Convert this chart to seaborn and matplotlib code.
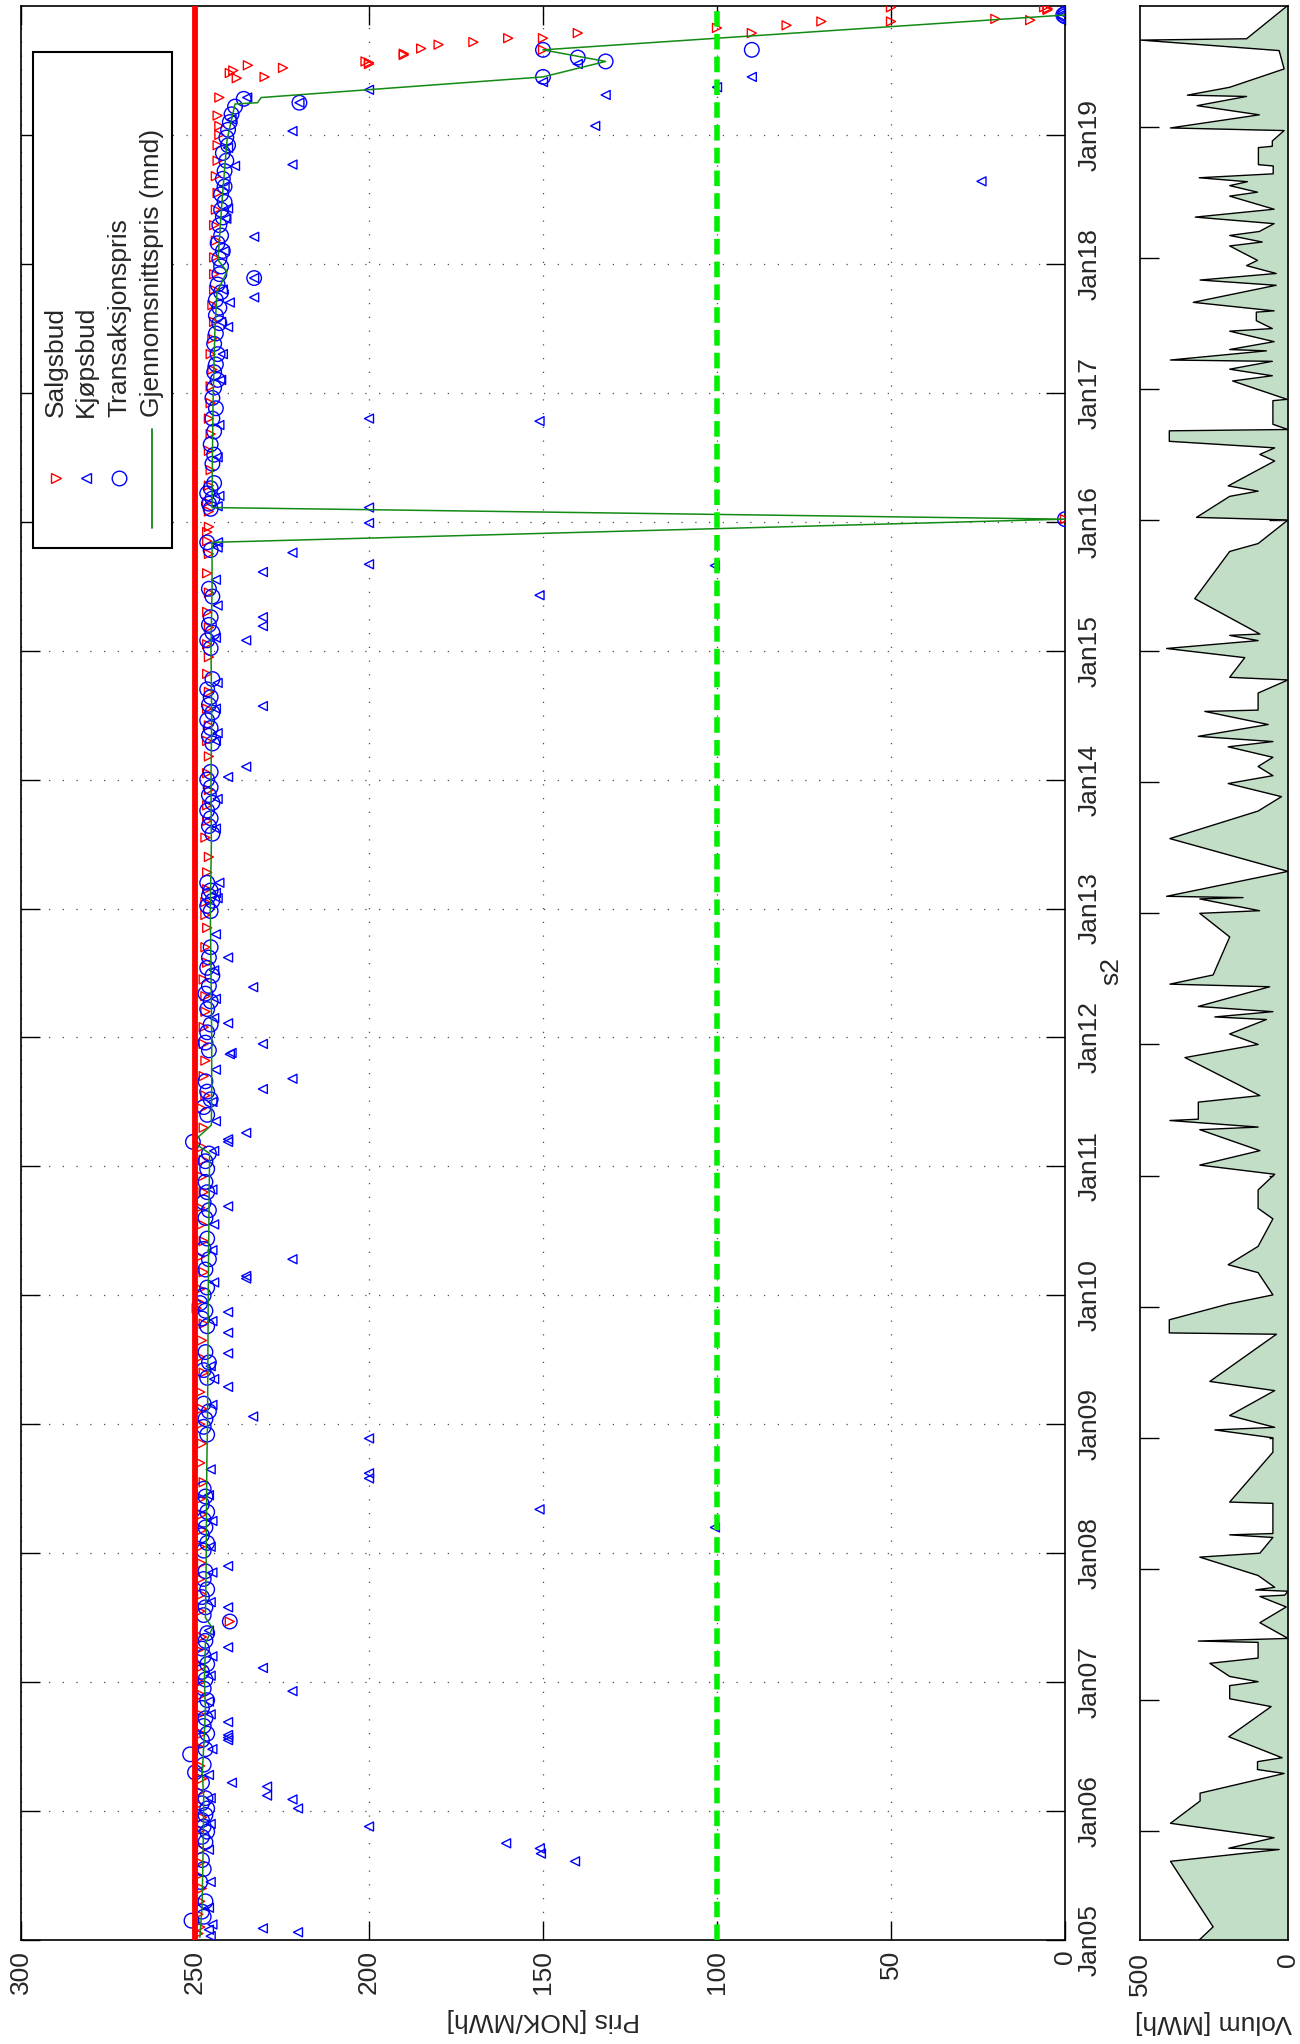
import numpy as np
import pandas as pd
import matplotlib
matplotlib.use("Agg")
import matplotlib.pyplot as plt
import seaborn as sns

sns.set_style("white")
plt.rcParams['font.family'] = ['Liberation Sans', 'DejaVu Sans']

# ---------------- data (decimal year, value) ----------------
sell_points = [
 (2005.05,249.0),(2005.10,248.5),(2005.20,249.0),(2005.30,248.5),(2005.40,248.0),(2005.50,249.0),(2005.60,248.5),(2005.70,248.0),(2005.85,248.5),(2005.95,248.0),
 (2006.05,249.0),(2006.15,248.5),(2006.25,248.0),(2006.35,248.5),(2006.50,249.0),(2006.60,248.0),(2006.75,248.5),(2006.90,248.0),
 (2007.00,248.5),(2007.12,248.0),(2007.25,249.0),(2007.35,248.0),(2007.47,240.0),(2007.55,248.5),(2007.68,248.0),(2007.80,248.5),(2007.92,248.0),
 (2008.05,248.5),(2008.18,248.0),(2008.30,248.0),(2008.42,248.5),(2008.55,247.5),(2008.70,248.5),(2008.85,248.0),
 (2009.00,248.5),(2009.12,248.0),(2009.25,248.5),(2009.40,247.5),(2009.52,248.5),(2009.65,248.0),(2009.78,247.5),(2009.90,249.5),(2009.95,249.0),
 (2010.05,248.5),(2010.18,247.5),(2010.30,248.5),(2010.42,247.5),(2010.55,248.0),(2010.68,248.5),(2010.80,247.5),(2010.92,248.0),
 (2011.05,247.5),(2011.15,248.0),(2011.30,247.5),(2011.45,248.0),(2011.55,247.0),(2011.70,247.5),(2011.82,247.0),(2011.95,247.5),
 (2012.08,247.5),(2012.20,247.0),(2012.32,247.0),(2012.45,247.5),(2012.58,246.5),(2012.70,247.0),(2012.85,246.5),(2012.95,247.0),
 (2013.05,247.0),(2013.15,246.5),(2013.28,246.5),(2013.40,246.0),(2013.55,247.0),(2013.68,246.5),(2013.80,246.5),(2013.92,246.0),
 (2014.05,246.5),(2014.18,246.0),(2014.30,246.5),(2014.42,246.0),(2014.55,246.5),(2014.68,246.0),(2014.82,246.5),(2014.95,246.0),
 (2015.05,246.5),(2015.18,246.0),(2015.30,246.5),(2015.45,246.0),(2015.60,246.5),(2015.75,246.0),(2015.85,246.5),(2015.92,246.5),(2015.96,246.0),
 (2016.02,0.0),(2016.08,246.0),(2016.15,246.5),(2016.28,246.0),(2016.40,245.5),(2016.55,246.0),(2016.68,245.5),(2016.80,246.0),(2016.92,245.5),
 (2017.05,245.5),(2017.18,245.0),(2017.30,245.5),(2017.42,245.0),(2017.55,244.5),(2017.68,245.0),(2017.80,244.5),(2017.92,244.5),
 (2018.05,244.5),(2018.18,244.0),(2018.30,244.5),(2018.42,244.0),(2018.55,243.5),(2018.68,244.0),(2018.80,243.5),(2018.92,243.5),
 (2019.00,243.0),(2019.07,243.0),(2019.15,243.5),(2019.29,243.0),(2019.44,238.0),(2019.45,230.0),(2019.48,240.0),(2019.50,239.0),
 (2019.52,224.7),(2019.54,234.8),(2019.55,200.0),(2019.56,200.0),(2019.57,201.0),(2019.62,190.0),(2019.63,190.0),(2019.67,185.0),
 (2019.70,180.0),(2019.72,170.0),(2019.75,160.0),(2019.75,150.0),(2019.79,140.0),(2019.66,150.0),(2019.83,100.0),(2019.79,90.0),
 (2019.85,80.0),(2019.88,70.0),(2019.88,50.0),(2019.99,50.0),(2019.90,20.0),(2019.89,10.0),(2019.99,6.0),(2019.98,5.0),(2019.97,5.0),
]

buy_points = [
 (2005.03,245.5),(2005.06,220.4),(2005.08,246.0),(2005.09,230.5),(2005.12,245.0),(2005.25,246.0),(2005.45,245.5),(2005.61,140.8),
 (2005.67,150.6),(2005.70,246.0),(2005.71,150.9),(2005.75,160.6),(2005.88,200.0),(2005.90,245.5),
 (2006.02,220.4),(2006.09,222.0),(2006.10,245.5),(2006.12,229.3),(2006.19,229.3),(2006.22,239.4),(2006.28,246.0),(2006.48,245.0),
 (2006.55,240.5),(2006.57,240.5),(2006.59,240.5),(2006.69,240.5),(2006.75,245.5),(2006.85,246.0),(2006.93,222.0),
 (2007.05,245.5),(2007.11,230.5),(2007.20,245.0),(2007.27,240.5),(2007.40,246.0),(2007.58,240.5),(2007.62,245.5),(2007.85,245.0),(2007.90,240.5),
 (2008.05,245.5),(2008.20,100.6),(2008.25,245.0),(2008.34,151.0),(2008.45,246.0),(2008.58,200.0),(2008.62,200.0),(2008.65,245.5),(2008.89,200.0),
 (2009.06,233.3),(2009.15,245.0),(2009.29,240.5),(2009.35,244.5),(2009.45,245.5),(2009.55,240.5),(2009.71,240.5),(2009.80,245.0),(2009.87,240.5),
 (2010.10,244.5),(2010.13,235.3),(2010.15,235.3),(2010.28,222.0),(2010.35,245.0),(2010.55,244.5),(2010.69,240.5),(2010.82,245.0),
 (2011.12,244.5),(2011.19,240.5),(2011.21,240.5),(2011.26,235.3),(2011.35,244.0),(2011.50,245.0),(2011.60,230.5),(2011.68,222.0),
 (2011.75,244.0),(2011.87,240.0),(2011.88,239.5),(2011.95,230.5),
 (2012.11,240.5),(2012.15,244.5),(2012.30,244.0),(2012.39,233.3),(2012.52,244.5),(2012.62,240.5),(2012.80,244.0),
 (2013.08,243.5),(2013.12,244.0),(2013.20,243.0),(2013.62,244.0),(2013.85,243.5),
 (2014.02,240.5),(2014.10,235.3),(2014.30,244.0),(2014.36,243.5),(2014.55,244.0),(2014.57,230.5),(2014.75,243.5),
 (2015.08,235.3),(2015.10,244.0),(2015.19,230.5),(2015.26,230.5),(2015.35,243.5),(2015.43,151.0),(2015.55,244.0),(2015.61,230.5),
 (2015.66,100.6),(2015.67,200.0),(2015.76,222.0),(2015.80,243.5),(2015.84,243.4),(2015.99,200.0),
 (2016.11,200.0),(2016.12,243.5),(2016.20,243.0),(2016.50,243.5),(2016.75,243.0),(2016.78,151.0),(2016.80,200.0),
 (2017.10,242.5),(2017.30,242.0),(2017.51,240.5),(2017.55,242.5),(2017.70,240.0),(2017.74,233.0),(2017.80,242.0),(2017.89,233.0),
 (2018.10,241.5),(2018.21,233.0),(2018.35,241.0),(2018.43,240.5),(2018.60,241.5),(2018.64,24.0),(2018.76,238.5),(2018.77,222.0),(2018.90,240.5),
 (2019.03,222.0),(2019.07,135.0),(2019.12,239.5),(2019.25,220.0),(2019.29,235.0),(2019.31,132.0),(2019.35,200.0),(2019.37,100.0),
 (2019.41,150.0),(2019.45,90.0),(2019.55,140.0),(2019.92,1.0),(2019.94,0.5),
]

tx_points = [
 (2005.15,251.0),(2005.18,247.5),(2005.22,248.0),(2005.30,247.0),(2005.45,248.5),(2005.55,247.5),(2005.62,248.0),(2005.76,247.0),
 (2005.80,248.0),(2005.84,246.5),(2005.88,247.5),(2005.93,248.0),(2005.97,247.0),
 (2006.02,246.5),(2006.06,248.0),(2006.10,247.0),(2006.22,248.0),(2006.30,250.0),(2006.36,247.5),(2006.44,251.4),(2006.48,247.0),
 (2006.55,248.0),(2006.60,246.5),(2006.66,247.5),(2006.72,247.0),(2006.80,248.0),(2006.86,246.5),(2006.95,247.5),
 (2007.02,247.0),(2007.08,248.0),(2007.14,246.5),(2007.20,247.5),(2007.26,248.0),(2007.32,247.0),(2007.38,246.5),(2007.47,240.0),
 (2007.52,247.5),(2007.58,247.0),(2007.66,248.0),(2007.72,246.5),(2007.80,247.5),(2007.86,247.0),
 (2008.02,247.5),(2008.08,246.5),(2008.14,248.0),(2008.20,247.0),(2008.26,247.5),(2008.32,246.5),(2008.38,248.0),(2008.44,247.0),
 (2008.50,247.5),(2008.92,246.5),(2008.98,247.5),
 (2009.04,247.0),(2009.10,246.0),(2009.16,247.5),(2009.36,246.5),(2009.42,247.5),(2009.48,246.0),(2009.56,247.0),(2009.76,246.5),
 (2009.82,248.0),(2009.88,247.0),(2009.94,248.5),
 (2010.00,247.5),(2010.06,246.5),(2010.20,247.0),(2010.28,246.0),(2010.36,247.5),(2010.44,246.5),(2010.60,247.0),(2010.66,246.0),
 (2010.72,247.5),(2010.80,246.5),(2010.88,247.0),(2010.98,246.5),
 (2011.04,247.0),(2011.10,246.0),(2011.19,250.6),(2011.40,246.5),(2011.46,247.5),(2011.52,245.5),(2011.58,246.5),(2011.66,247.0),
 (2011.90,246.0),(2011.96,247.0),(2012.04,246.5),(2012.10,245.5),
 (2012.22,246.5),(2012.28,245.5),(2012.34,247.0),(2012.40,246.0),(2012.48,245.0),(2012.54,246.5),(2012.62,246.0),(2012.70,245.5),
 (2012.98,245.5),(2013.02,246.5),(2013.06,245.0),(2013.10,246.0),(2013.14,245.5),(2013.20,246.5),(2013.58,245.0),(2013.64,246.0),
 (2013.70,245.5),(2013.76,246.5),(2013.82,245.0),(2013.88,246.0),(2013.94,245.5),(2014.00,246.5),(2014.06,245.5),
 (2014.28,245.0),(2014.34,246.0),(2014.40,245.5),(2014.46,246.5),(2014.52,245.0),(2014.58,246.0),(2014.64,245.5),(2014.70,246.5),(2014.78,245.0),
 (2015.02,245.5),(2015.08,246.5),(2015.14,245.0),(2015.20,246.0),(2015.26,245.5),(2015.42,245.0),(2015.48,246.0),(2015.78,245.5),(2015.84,246.5),
 (2016.02,0.0),(2016.10,245.5),(2016.14,246.0),(2016.18,245.0),(2016.22,246.5),(2016.26,245.5),(2016.30,244.5),(2016.45,245.0),
 (2016.52,244.5),(2016.60,245.5),(2016.70,244.5),(2016.80,245.0),(2016.88,244.0),(2016.96,245.0),
 (2017.04,244.5),(2017.10,243.5),(2017.16,244.5),(2017.22,244.0),(2017.30,243.5),(2017.38,244.5),(2017.46,244.0),(2017.54,243.0),
 (2017.60,244.0),(2017.66,243.0),(2017.72,244.0),(2017.78,242.5),(2017.84,243.5),(2017.89,233.0),(2017.92,243.0),(2017.98,242.5),
 (2018.04,243.0),(2018.10,242.0),(2018.16,243.5),(2018.22,242.5),(2018.30,243.0),(2018.36,242.0),(2018.42,242.5),(2018.48,241.5),
 (2018.54,242.5),(2018.60,241.5),(2018.66,242.0),(2018.72,241.5),(2018.80,241.0),(2018.86,242.0),(2018.92,240.5),(2018.98,241.0),
 (2019.04,240.5),(2019.10,240.0),(2019.16,239.5),(2019.22,238.5),(2019.25,220.0),(2019.28,236.0),(2019.45,150.0),(2019.57,132.0),
 (2019.60,140.0),(2019.66,150.0),(2019.66,90.0),(2019.92,0.0),(2019.93,0.5),(2019.94,0.0),
]

mean_points = [
 (2005.02,248.6),(2005.25,248.0),(2005.50,247.8),(2005.80,247.6),(2006.10,247.5),(2006.30,247.9),(2006.60,247.3),(2006.80,247.0),
 (2007.00,247.3),(2007.30,247.0),(2007.42,245.0),(2007.50,247.0),(2007.90,246.8),(2008.30,246.7),(2008.70,246.6),(2009.00,246.4),
 (2009.50,246.3),(2010.00,246.2),(2010.60,246.0),(2011.10,245.8),(2011.19,250.6),(2011.32,245.3),(2011.60,245.2),(2012.00,245.2),
 (2012.50,245.4),(2013.00,245.6),(2013.50,245.3),(2014.00,245.4),(2014.50,245.2),(2015.00,245.4),(2015.50,245.1),(2015.84,245.1),
 (2016.02,0.0),(2016.11,245.1),(2016.50,245.0),(2016.95,244.8),(2017.47,244.3),(2017.78,243.7),(2017.94,240.8),(2018.03,243.4),
 (2018.50,242.2),(2018.96,240.8),(2019.24,238.5),(2019.25,232.0),(2019.29,231.0),(2019.45,150.0),(2019.57,132.0),(2019.66,150.0),
 (2019.93,0.0),
]

vol_points = [
 (2005.17,300),(2005.27,253),(2005.77,397),(2005.86,30),(2005.87,200),(2005.95,47),(2006.06,397),(2006.23,297),(2006.29,297),
 (2006.44,13),(2006.47,103),(2006.53,103),(2006.56,20),(2006.72,200),(2006.95,57),(2007.01,197),(2007.11,197),(2007.14,101),
 (2007.18,197),(2007.28,264),(2007.32,101),(2007.44,101),(2007.45,303),(2007.47,0),(2007.59,95),(2007.71,6),(2007.79,95),
 (2007.80,11),(2007.83,0),(2007.84,109),(2007.86,45),(2007.95,101),(2008.09,298),(2008.12,95),(2008.24,51),(2008.26,197),
 (2008.27,51),(2008.50,51),(2008.51,197),(2008.89,51),(2009.00,51),(2009.06,247),(2009.08,45),(2009.17,197),(2009.36,45),
 (2009.43,264),(2009.79,39),(2009.80,401),(2009.90,401),(2010.02,202),(2010.09,51),(2010.26,101),(2010.32,202),(2010.46,101),
 (2010.67,51),(2010.75,101),(2010.89,101),(2011.01,45),(2011.08,298),(2011.19,95),(2011.35,298),(2011.37,101),(2011.42,399),
 (2011.43,303),(2011.56,303),(2011.61,95),(2011.90,348),(2012.00,101),(2012.08,197),(2012.19,73),(2012.21,247),(2012.25,51),
 (2012.29,303),(2012.44,62),(2012.46,399),(2012.53,253),(2012.82,197),(2013.00,298),(2013.02,96),(2013.11,298),(2013.12,152),
 (2013.13,410),(2013.32,0),(2013.57,399),(2013.78,101),(2013.89,22),(2013.99,202),(2014.05,51),(2014.12,101),(2014.19,51),
 (2014.27,202),(2014.31,51),(2014.35,303),(2014.44,67),(2014.54,281),(2014.55,101),(2014.68,101),(2014.78,0),(2014.80,197),
 (2014.95,146),(2015.02,410),(2015.08,101),(2015.12,197),(2015.13,95),(2015.40,315),(2015.76,197),(2015.82,101),(2016.00,0),
 (2016.02,309),(2016.18,197),(2016.22,101),(2016.26,202),(2016.45,45),(2016.50,95),(2016.55,45),(2016.60,401),(2016.68,401),
 (2016.69,0),(2016.73,51),(2016.91,51),(2016.92,3),(2017.06,187),(2017.10,53),(2017.15,197),(2017.21,53),(2017.22,397),
 (2017.29,73),(2017.30,197),(2017.36,47),(2017.44,197),(2017.46,53),(2017.52,107),(2017.585,107),(2017.595,47),(2017.66,320),
 (2017.79,40),(2017.83,297),(2017.88,40),(2017.94,140),(2017.98,103),(2018.09,197),(2018.12,87),(2018.17,197),(2018.20,97),
 (2018.26,47),(2018.31,313),(2018.37,47),(2018.47,197),(2018.50,103),(2018.55,197),(2018.58,137),(2018.61,300),(2018.64,50),
 (2018.70,50),(2018.71,100),(2018.84,100),(2018.85,53),(2018.89,53),(2018.97,13),(2018.99,397),(2019.09,97),(2019.16,307),
 (2019.23,140),(2019.24,340),(2019.30,197),(2019.44,13),(2019.58,30),(2019.66,497),(2019.67,140),(2019.92,3),
]

price_ticks = [300, 250, 200, 150, 100, 50, 0]
year_ticks = list(range(2005, 2020))
year_labels = ["Jan%02d" % (y % 100) for y in year_ticks]
vol_ticks = [500, 0]
cap_price = 250
floor_price = 100
legend_labels = ["Salgsbud", "Kjøpsbud", "Transaksjonspris", "Gjennomsnittspris (mnd)"]

sell = pd.DataFrame(sell_points, columns=["dato", "pris"])
buy = pd.DataFrame(buy_points, columns=["dato", "pris"])
tx = pd.DataFrame(tx_points, columns=["dato", "pris"])
mean = pd.DataFrame(mean_points, columns=["dato", "pris"])
vol = pd.DataFrame(vol_points, columns=["dato", "volum"])

# ---------------- figure ----------------
W, H = 1300, 2044
FS = 19
fig = plt.figure(figsize=(W / 100, H / 100), dpi=100)
ax = fig.add_axes([21 / W, 1 - 1940 / H, 1044 / W, 1934 / H])
axv = fig.add_axes([1140 / W, 1 - 1940 / H, 148 / W, 1934 / H])

RED, BLUE, DGREEN = "#ff0000", "#0000ff", "#138a13"

sns.scatterplot(data=sell, x="pris", y="dato", marker=">", s=42, facecolor="none",
                edgecolor=RED, linewidth=1.0, ax=ax, zorder=3)
sns.scatterplot(data=buy, x="pris", y="dato", marker="<", s=42, facecolor="none",
                edgecolor=BLUE, linewidth=1.0, ax=ax, zorder=3)
sns.scatterplot(data=tx, x="pris", y="dato", marker="o", s=110, facecolor="none",
                edgecolor=BLUE, linewidth=1.0, ax=ax, zorder=4)
sns.lineplot(data=mean, x="pris", y="dato", sort=False, estimator=None,
             color=DGREEN, lw=1.1, ax=ax, zorder=5)
ax.axvline(cap_price, color=RED, lw=4.2, zorder=6)
ax.axvline(floor_price, color="#00ee00", lw=4.0, dashes=(2.8, 1.3), zorder=6)

ax.set_xlim(300, 0)
ax.set_ylim(2005, 2020)
ax.set_xticks(price_ticks)
ax.set_xticklabels([str(v) for v in price_ticks], rotation=90, fontsize=FS)
ax.set_yticks(year_ticks)
ax.set_yticklabels(year_labels, rotation=90, va="center", fontsize=FS)
ax.yaxis.tick_right()
ax.tick_params(axis="both", direction="in", length=13.5, width=1.0, color="k",
               top=True, bottom=True, left=True, right=True)
ax.tick_params(axis="x", pad=7)
ax.tick_params(axis="y", pad=9, labelleft=False, labelright=True)
ax.set_axisbelow(True)
ax.grid(True, linestyle=(0, (1, 10)), color="0.3", lw=0.9)
ax.set_xlabel("Pris [NOK/MWh]", rotation=180, fontsize=FS, labelpad=10)
ax.set_ylabel("")
for s in ax.spines.values():
    s.set_color("k"); s.set_linewidth(1.2)

# legend (rotated like the rest of the chart)
ax.add_patch(plt.Rectangle((0.0115, 0.7198), 0.1331, 0.2564, transform=ax.transAxes,
                           facecolor="white", edgecolor="k", lw=1.5, zorder=8))
lx = [0.0335, 0.0623, 0.0939, 0.1255]
ax.plot([lx[0]], [0.756], marker=">", ms=6.5, mfc="none", mec=RED, mew=1.0,
        transform=ax.transAxes, zorder=9)
ax.plot([lx[1]], [0.756], marker="<", ms=6.5, mfc="none", mec=BLUE, mew=1.0,
        transform=ax.transAxes, zorder=9)
ax.plot([lx[2]], [0.756], marker="o", ms=10.5, mfc="none", mec=BLUE, mew=1.0,
        transform=ax.transAxes, zorder=9)
ax.plot([lx[3], lx[3]], [0.7813, 0.730], color=DGREEN, lw=1.3,
        transform=ax.transAxes, zorder=9)
for xx, lab in zip(lx, legend_labels):
    ax.text(xx, 0.7875, lab, rotation=90, ha="center", va="bottom", fontsize=FS,
            transform=ax.transAxes, zorder=9)

fig.text(1111 / W, 1 - 971 / H, "s2", rotation=90, ha="center", va="center", fontsize=FS)

# volume panel
axv.fill_betweenx(vol["dato"], 0, vol["volum"], color="#c2dec6", lw=0, zorder=1)
sns.lineplot(data=vol, x="volum", y="dato", sort=False, estimator=None,
             color="k", lw=1.0, ax=axv, zorder=2)
axv.set_xlim(500, 0)
axv.set_ylim(vol["dato"].min(), vol["dato"].max())
axv.set_xticks(vol_ticks)
axv.set_xticklabels([str(v) for v in vol_ticks], rotation=90, fontsize=FS)
axv.set_yticks(list(range(2006, 2020)))
axv.set_yticklabels([])
axv.tick_params(axis="both", direction="in", length=13.5, width=1.0, color="k",
                left=True, right=True, top=False, bottom=False)
axv.tick_params(axis="x", pad=9)
axv.set_axisbelow(True)
axv.set_xlabel("Volum [MWh]", rotation=180, fontsize=FS, labelpad=10)
axv.set_ylabel("")
for s in axv.spines.values():
    s.set_color("k"); s.set_linewidth(1.2)

fig.savefig("out.png", dpi=100)
